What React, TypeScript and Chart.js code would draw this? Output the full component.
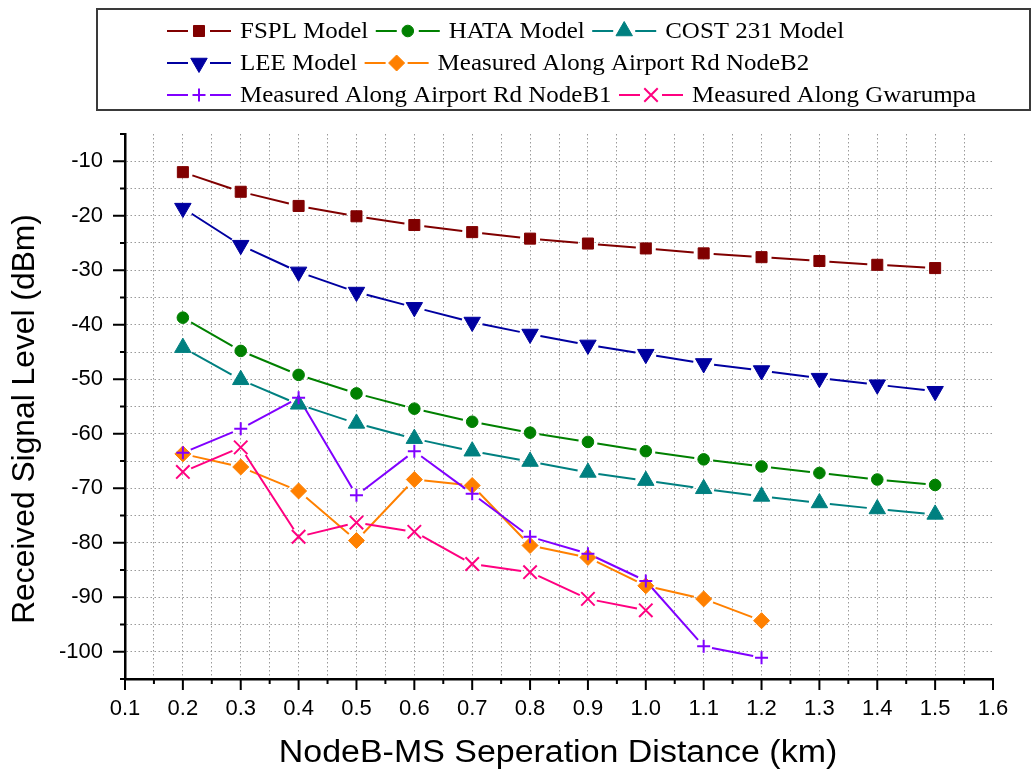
import React, { useEffect, useRef } from 'react';
import { Chart, registerables } from 'chart.js';
import { drawPoint } from 'chart.js/helpers';

Chart.register(...registerables);

// ---------------- data ----------------
const distModels = [0.2, 0.3, 0.4, 0.5, 0.6, 0.7, 0.8, 0.9, 1.0, 1.1, 1.2, 1.3, 1.4, 1.5];
const fsplModel = [-12.0, -15.6, -18.2, -20.1, -21.7, -23.0, -24.2, -25.1, -26.0, -26.9, -27.6, -28.3, -29.0, -29.6];
const hataModel = [-38.7, -44.8, -49.2, -52.6, -55.4, -57.8, -59.8, -61.5, -63.2, -64.7, -66.0, -67.2, -68.4, -69.4];
const cost231Model = [-44.2, -50.1, -54.6, -58.1, -60.9, -63.2, -65.1, -67.1, -68.6, -70.1, -71.5, -72.7, -73.8, -74.8];
const leeModel = [-18.6, -25.4, -30.3, -34.0, -36.8, -39.5, -41.7, -43.7, -45.4, -47.1, -48.4, -49.8, -51.0, -52.2];

const distAirport = [0.2, 0.3, 0.4, 0.5, 0.6, 0.7, 0.8, 0.9, 1.0, 1.1, 1.2];
const measuredNodeB2 = [-63.7, -66.1, -70.5, -79.6, -68.4, -69.5, -80.5, -82.7, -87.9, -90.3, -94.3];
const measuredNodeB1 = [-63.5, -59.1, -53.4, -71.3, -63.2, -71.0, -78.9, -82.0, -87.0, -99.0, -101.1];

const distGwarumpa = [0.2, 0.3, 0.4, 0.5, 0.6, 0.7, 0.8, 0.9, 1.0];
const measuredGwarumpa = [-67.0, -62.5, -78.9, -76.3, -78.0, -83.9, -85.4, -90.3, -92.4];

const xTickLabels = ['0.1', '0.2', '0.3', '0.4', '0.5', '0.6', '0.7', '0.8', '0.9', '1.0', '1.1', '1.2', '1.3', '1.4', '1.5', '1.6'];
const yTickLabels = ['-100', '-90', '-80', '-70', '-60', '-50', '-40', '-30', '-20', '-10'];

const seriesLabels = [
  'FSPL Model',
  'HATA Model',
  'COST 231 Model',
  'LEE Model',
  'Measured Along Airport Rd NodeB2',
  'Measured Along Airport Rd NodeB1',
  'Measured Along Gwarumpa',
];

const xTitle = 'NodeB-MS Seperation Distance (km)';
const yTitle = 'Received Signal Level (dBm)';

// ---------------- helpers ----------------
const pts = (xs: number[], ys: number[]) => xs.map((x, i) => ({ x, y: ys[i] }));

const SANS = '"Liberation Sans", Arial, Helvetica, sans-serif';
const SERIF = '"Liberation Serif", "Times New Roman", serif';

const legendRows = [[0, 1, 2], [3, 4], [5, 6]];
const legendRowY = [31, 63, 95];

// Origin-style connecting lines: segments stop short of each marker
const gapLinesPlugin = {
  id: 'gapLines',
  beforeDatasetsDraw(chart: any) {
    const ctx: CanvasRenderingContext2D = chart.ctx;
    ctx.save();
    const area = chart.chartArea;
    ctx.beginPath();
    ctx.rect(area.left, area.top, area.right - area.left, area.bottom - area.top);
    ctx.clip();
    chart.data.datasets.forEach((ds: any, di: number) => {
      const meta = chart.getDatasetMeta(di);
      const els = meta.data;
      const g = ds.lineGap || 9;
      ctx.strokeStyle = ds.lineColor;
      ctx.lineWidth = 2;
      ctx.lineCap = 'butt';
      ctx.beginPath();
      for (let i = 0; i < els.length - 1; i++) {
        const a = els[i];
        const b = els[i + 1];
        const dx = b.x - a.x;
        const dy = b.y - a.y;
        const len = Math.hypot(dx, dy);
        if (len <= 2 * g) continue;
        const ux = dx / len;
        const uy = dy / len;
        ctx.moveTo(a.x + ux * g, a.y + uy * g);
        ctx.lineTo(b.x - ux * g, b.y - uy * g);
      }
      ctx.stroke();
    });
    ctx.restore();
  },
};

const boxLegendPlugin = {
  id: 'boxLegend',
  afterDraw(chart: any) {
    const ctx: CanvasRenderingContext2D = chart.ctx;
    ctx.save();
    ctx.strokeStyle = '#3a3a3a';
    ctx.lineWidth = 2;
    ctx.strokeRect(97, 9, 933, 101);
    const SX = 1.085;
    ctx.font = `23px ${SERIF}`;
    ctx.textBaseline = 'middle';
    legendRows.forEach((row, ri) => {
      let x = 167;
      const y = legendRowY[ri];
      row.forEach((i) => {
        const ds = chart.data.datasets[i];
        ctx.strokeStyle = ds.lineColor;
        ctx.lineWidth = 2;
        ctx.beginPath();
        ctx.moveTo(x, y);
        ctx.lineTo(x + 21, y);
        ctx.moveTo(x + 43, y);
        ctx.lineTo(x + 64, y);
        ctx.stroke();
        ctx.fillStyle = ds.pointBackgroundColor;
        ctx.strokeStyle = ds.pointBorderColor;
        ctx.lineWidth = ds.pointBorderWidth;
        drawPoint(ctx, {
          pointStyle: ds.pointStyle,
          rotation: ds.pointRotation || 0,
          radius: ds.pointRadius,
          borderWidth: ds.pointBorderWidth,
        } as any, x + 32, y);
        ctx.fillStyle = '#000';
        ctx.save();
        ctx.translate(x + 73, y + 1);
        ctx.scale(SX, 1);
        ctx.fillText(ds.label, 0, 0);
        ctx.restore();
        x += 73 + ctx.measureText(ds.label).width * SX + 7.5;
      });
    });
    ctx.restore();
  },
};

const axisDecorPlugin = {
  id: 'axisDecor',
  afterDraw(chart: any) {
    const { ctx, scales, chartArea } = chart;
    const xs = scales.x;
    const ys = scales.y;
    ctx.save();
    ctx.strokeStyle = '#000';
    ctx.lineWidth = 2;
    ctx.beginPath();
    xs.ticks.forEach((t: any) => {
      const px = xs.getPixelForValue(t.value);
      const len = t.label ? 11 : 5;
      ctx.moveTo(px, chartArea.bottom);
      ctx.lineTo(px, chartArea.bottom + len);
    });
    ys.ticks.forEach((t: any) => {
      const py = ys.getPixelForValue(t.value);
      const len = t.label ? 12 : 5;
      ctx.moveTo(chartArea.left - len, py);
      ctx.lineTo(chartArea.left, py);
    });
    ctx.stroke();

    // axis titles (slightly widened like the original export)
    ctx.fillStyle = '#000';
    ctx.font = `31px ${SANS}`;
    ctx.textAlign = 'center';
    ctx.textBaseline = 'middle';
    ctx.save();
    ctx.translate((chartArea.left + chartArea.right) / 2 - 1, 753);
    ctx.scale(1.095, 1);
    ctx.fillText(xTitle, 0, 0);
    ctx.restore();

    ctx.save();
    ctx.translate(25, 419);
    ctx.rotate(-Math.PI / 2);
    ctx.scale(1.025, 1);
    ctx.fillText(yTitle, 0, 0);
    ctx.restore();

    ctx.restore();
  },
};

function makeDataset(label: string, data: any[], color: string, style: string, radius: number, gap: number, extra: any = {}) {
  const isStroke = style === 'cross' || style === 'crossRot';
  return {
    label,
    data,
    showLine: false,
    lineColor: color,
    lineGap: gap,
    borderColor: color,
    backgroundColor: color,
    borderWidth: 2,
    pointStyle: style,
    pointRadius: radius,
    pointHoverRadius: radius,
    pointBackgroundColor: color,
    pointBorderColor: color,
    pointBorderWidth: isStroke ? 2 : 1,
    fill: false,
    tension: 0,
    ...extra,
  };
}

export default function App() {
  const canvasRef = useRef<HTMLCanvasElement | null>(null);

  useEffect(() => {
    document.body.style.margin = '0';
    const canvas = canvasRef.current;
    if (!canvas) return;

    const datasets = [
      makeDataset(seriesLabels[0], pts(distModels, fsplModel), '#800000', 'rect', 7.8, 10),
      makeDataset(seriesLabels[1], pts(distModels, hataModel), '#008000', 'circle', 5.8, 9.5),
      makeDataset(seriesLabels[2], pts(distModels, cost231Model), '#008080', 'triangle', 9.5, 10.5),
      makeDataset(seriesLabels[3], pts(distModels, leeModel), '#0000A0', 'triangle', 9.5, 10.5, { pointRotation: 180 }),
      makeDataset(seriesLabels[4], pts(distAirport, measuredNodeB2), '#FF8000', 'rectRot', 8, 10),
      makeDataset(seriesLabels[5], pts(distAirport, measuredNodeB1), '#8000FF', 'cross', 6.5, 8.5),
      makeDataset(seriesLabels[6], pts(distGwarumpa, measuredGwarumpa), '#FF0080', 'crossRot', 9.5, 9),
    ].map((d, i, arr) => ({ ...d, order: arr.length - i }));

    const chart = new Chart(canvas, {
      type: 'line',
      data: { datasets: datasets as any },
      plugins: [gapLinesPlugin, boxLegendPlugin, axisDecorPlugin],
      options: {
        responsive: false,
        animation: false,
        devicePixelRatio: 1,
        layout: { padding: { top: 134, left: 0, right: 43, bottom: 0 } },
        plugins: {
          legend: { display: false },
          tooltip: { enabled: false },
        },
        scales: {
          x: {
            type: 'linear',
            min: 0.1,
            max: 1.6,
            afterFit: (scale: any) => {
              scale.height = 90;
            },
            ticks: {
              stepSize: 0.05,
              autoSkip: false,
              maxRotation: 0,
              padding: 17,
              color: '#000',
              font: { family: SANS, size: 22 },
              callback: (_v: any, index: number) => (index % 2 === 0 ? xTickLabels[index / 2] : ''),
            },
            grid: {
              drawTicks: false,
              lineWidth: 1,
              color: (c: any) => {
                const v = c.tick ? c.tick.value : 0;
                return Math.abs(v - 0.1) < 1e-6 || Math.abs(v - 1.6) < 1e-6 ? 'rgba(0,0,0,0)' : '#9a9a9a';
              },
            },
            border: { display: true, color: '#000', width: 2.5, dash: [1.5, 2.5] },
            title: { display: false, text: xTitle },
          },
          y: {
            type: 'linear',
            min: -105,
            max: -5,
            afterFit: (scale: any) => {
              scale.width = 125;
            },
            ticks: {
              stepSize: 5,
              autoSkip: false,
              padding: 22,
              color: '#000',
              font: { family: SANS, size: 22 },
              callback: (v: any) => {
                const r = Math.round(Number(v));
                const idx = yTickLabels.indexOf(String(r));
                return idx >= 0 ? yTickLabels[idx] : '';
              },
            },
            grid: {
              drawTicks: false,
              lineWidth: 1,
              color: (c: any) => {
                const v = c.tick ? c.tick.value : 0;
                return Math.abs(v + 5) < 1e-6 || Math.abs(v + 105) < 1e-6 ? 'rgba(0,0,0,0)' : '#9a9a9a';
              },
            },
            border: { display: true, color: '#000', width: 2.5, dash: [1.5, 2.5] },
            title: { display: false, text: yTitle },
          },
        },
      } as any,
    });

    return () => {
      chart.destroy();
    };
  }, []);

  return (
    <div style={{ width: 1036, height: 769, position: 'relative' }}>
      <canvas ref={canvasRef} width={1036} height={769} style={{ display: 'block' }} />
    </div>
  );
}
